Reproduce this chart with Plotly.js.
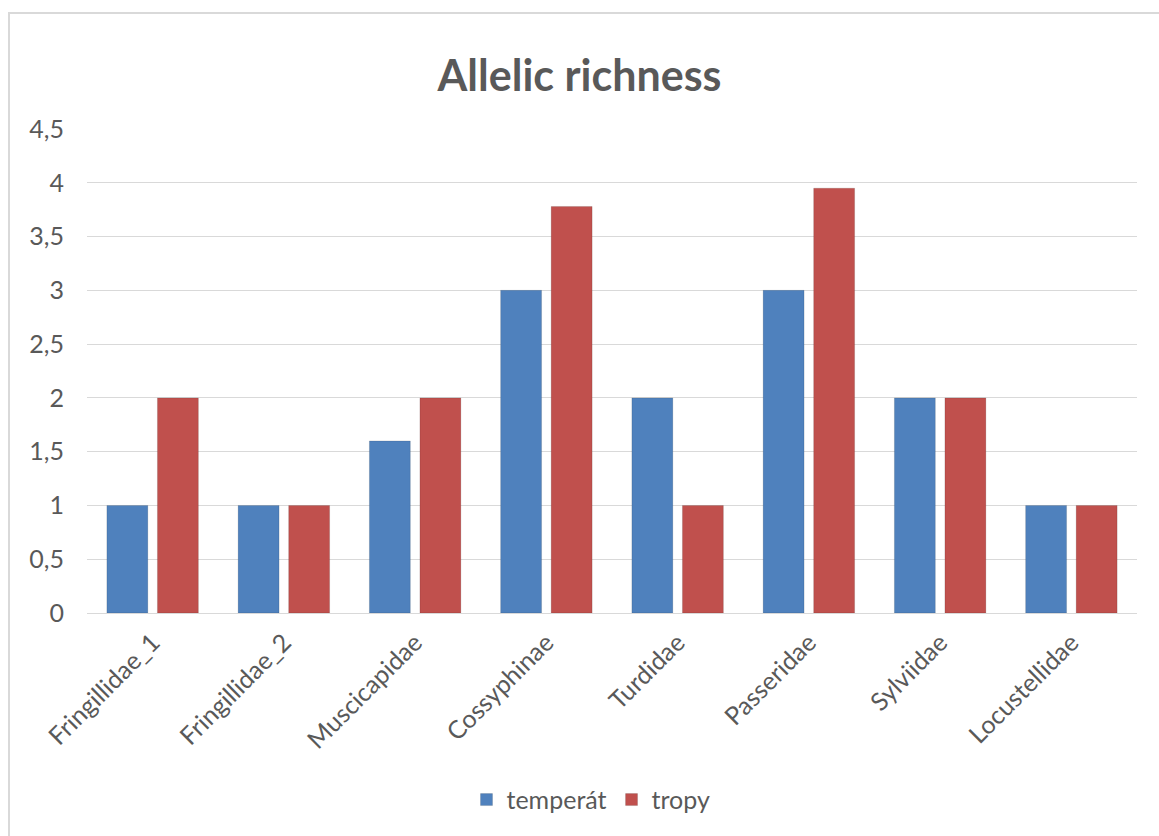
<!DOCTYPE html>
<html>
<head>
<meta charset="utf-8">
<script src="https://cdn.plot.ly/plotly-3.0.1.min.js"></script>
<style>
  html, body { margin: 0; padding: 0; background: #ffffff; }
  #frame { position: absolute; left: 8px; top: 12px; width: 1160px; height: 840px; border: 2px solid #d9d9d9; box-sizing: border-box; }
  #chart { position: absolute; left: 0; top: 0; width: 1159px; height: 836px; }
</style>
</head>
<body>
<div id="frame"></div>
<div id="chart"></div>
<script>
const categories = ["Fringillidae_1", "Fringillidae_2", "Muscicapidae", "Cossyphinae", "Turdidae", "Passeridae", "Sylviidae", "Locustellidae"];
const temperat = [1, 1, 1.6, 3, 2, 3, 2, 1];
const tropy = [2, 1, 2, 3.78, 1, 3.95, 2, 1];
const seriesNames = ["temperát", "tropy"];
const yTicks = [0, 0.5, 1, 1.5, 2, 2.5, 3, 3.5, 4, 4.5];

const fontFamily = "Lato, 'Open Sans', 'Noto Sans', sans-serif";

const traces = [
  {
    type: "bar", name: seriesNames[0], x: categories, y: temperat,
    marker: { color: "#4f81bd", line: { color: "rgba(0,0,0,0.12)", width: 1 } },
    hoverinfo: "x+y"
  },
  {
    type: "bar", name: seriesNames[1], x: categories, y: tropy,
    marker: { color: "#c0504d", line: { color: "rgba(0,0,0,0.12)", width: 1 } },
    hoverinfo: "x+y"
  }
];

const layout = {
  width: 1159, height: 836,
  paper_bgcolor: "rgba(0,0,0,0)", plot_bgcolor: "rgba(0,0,0,0)",
  separators: ", ",
  font: { family: fontFamily, color: "#595959", size: 25 },
  title: {
    text: "<b>Allelic richness</b>",
    font: { family: fontFamily, size: 43, color: "#595959" },
    x: 0.5, xref: "container", xanchor: "center",
    y: 1 - 76 / 836, yref: "container", yanchor: "middle"
  },
  margin: { l: 87, r: 22, t: 129, b: 223 },
  barmode: "group",
  bargap: 0.23,
  bargroupgap: 0.19,
  xaxis: {
    tickangle: -45,
    tickfont: { size: 25, color: "#595959" },
    showgrid: false,
    showline: true, linecolor: "#d9d9d9", linewidth: 1,
    ticks: "", ticklabelstandoff: 4
  },
  yaxis: {
    range: [0, 4.5],
    tickvals: yTicks,
    tickfont: { size: 25, color: "#595959" },
    showgrid: true, gridcolor: "#d9d9d9", gridwidth: 1,
    zeroline: false, showline: false,
    ticks: "", ticklabelstandoff: 22
  },
  showlegend: true,
  legend: {
    orientation: "h", x: 0.48, xanchor: "center", y: -0.386, yanchor: "middle",
    font: { size: 25, color: "#595959" }, itemwidth: 30, traceorder: "normal"
  }
};

Plotly.newPlot("chart", traces, layout, { displayModeBar: false, staticPlot: true });
</script>
</body>
</html>
